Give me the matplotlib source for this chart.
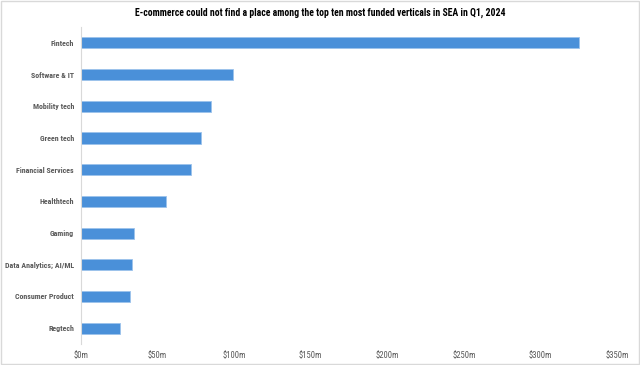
import matplotlib.pyplot as plt
from matplotlib.patches import Rectangle

categories = ["Fintech", "Software & IT", "Mobility tech", "Green tech", "Financial Services",
              "Healthtech", "Gaming", "Data Analytics; AI/ML", "Consumer Product", "Regtech"]
funding_musd = [325, 99, 84.6, 78.5, 71.6, 55.5, 34.6, 33.5, 32.2, 25.2]
x_ticks = [0, 50, 100, 150, 200, 250, 300, 350]
x_tick_labels = ["$0m", "$50m", "$100m", "$150m", "$200m", "$250m", "$300m", "$350m"]

title = "E-commerce could not find a place among the top ten most funded verticals in SEA in Q1, 2024"

narrow = ["Roboto Condensed", "DejaVu Sans"]
text_gray = "#595959"

fig = plt.figure(figsize=(6.4, 3.65), dpi=100)
ax = fig.add_axes([0.1266, 0.0575, 0.8374, 0.8685])

y = list(range(len(categories)))[::-1]
ax.barh(y, funding_musd, height=0.35, color="#4A90D9", edgecolor="#9CC3EC", linewidth=0.6)

ax.set_xlim(0, 350)
ax.set_ylim(-0.5, len(categories) - 0.5)
ax.set_yticks(y)
ax.set_yticklabels(categories, family=narrow, fontsize=5.7, fontweight="bold", color=text_gray)
ax.set_xticks(x_ticks)
ax.set_xticklabels(x_tick_labels, family=narrow, fontsize=6.2, color=text_gray)
ax.tick_params(axis="both", length=0)
ax.tick_params(axis="y", pad=5)
ax.tick_params(axis="x", pad=5.5)

for side in ["top", "right", "bottom"]:
    ax.spines[side].set_visible(False)
ax.spines["left"].set_color("#D9D9D9")
ax.spines["left"].set_linewidth(0.8)

fig.text(0.5, 0.964, title, ha="center", va="center", family=narrow,
         fontsize=7, fontweight="bold", color="#000000")

fig.patches.append(Rectangle((0.002, 0.003), 0.996, 0.994, transform=fig.transFigure,
                             fill=False, edgecolor="#D9D9D9", linewidth=1))

fig.savefig("out.png", dpi=100)
